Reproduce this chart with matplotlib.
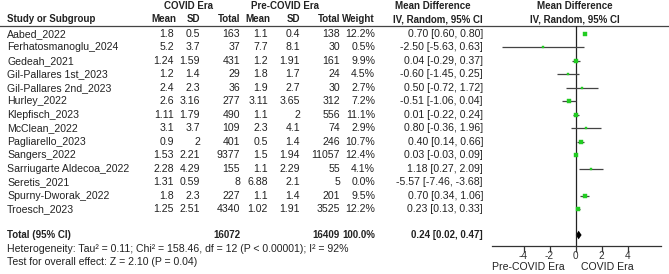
import matplotlib
matplotlib.use("Agg")
import matplotlib.pyplot as plt
import numpy as np

plt.rcParams['font.family'] = ['Liberation Sans', 'DejaVu Sans']

studies = ["Aabed_2022", "Ferhatosmanoglu_2024", "Gedeah_2021", "Gil-Pallares 1st_2023",
           "Gil-Pallares 2nd_2023", "Hurley_2022", "Klepfisch_2023", "McClean_2022",
           "Pagliarello_2023", "Sangers_2022", "Sarriugarte Aldecoa_2022", "Seretis_2021",
           "Spurny-Dworak_2022", "Troesch_2023"]
covid_mean = ["1.8", "5.2", "1.24", "1.2", "2.4", "2.6", "1.11", "3.1", "0.9", "1.53", "2.28", "1.31", "1.8", "1.25"]
covid_sd = ["0.5", "3.7", "1.59", "1.4", "2.3", "3.16", "1.79", "3.7", "2", "2.21", "4.29", "0.59", "2.3", "2.51"]
covid_n = ["163", "37", "431", "29", "36", "277", "490", "109", "401", "9377", "155", "8", "227", "4340"]
pre_mean = ["1.1", "7.7", "1.2", "1.8", "1.9", "3.11", "1.1", "2.3", "0.5", "1.5", "1.1", "6.88", "1.1", "1.02"]
pre_sd = ["0.4", "8.1", "1.91", "1.7", "2.7", "3.65", "2", "4.1", "1.4", "1.94", "2.29", "2.1", "1.4", "1.91"]
pre_n = ["138", "30", "161", "24", "30", "312", "556", "74", "246", "11057", "55", "5", "201", "3525"]
weight = [12.2, 0.5, 9.9, 4.5, 2.7, 7.2, 11.1, 2.9, 10.7, 12.4, 4.1, 0.0, 9.5, 12.2]
md = [0.70, -2.50, 0.04, -0.60, 0.50, -0.51, 0.01, 0.80, 0.40, 0.03, 1.18, -5.57, 0.70, 0.23]
lo = [0.60, -5.63, -0.29, -1.45, -0.72, -1.06, -0.22, -0.36, 0.14, -0.03, 0.27, -7.46, 0.34, 0.13]
hi = [0.80, 0.63, 0.37, 0.25, 1.72, 0.04, 0.24, 1.96, 0.66, 0.09, 2.09, -3.68, 1.06, 0.33]
total_covid = "16072"
total_pre = "16409"
total_md, total_lo, total_hi = 0.24, 0.02, 0.47
het_text = "Heterogeneity: Tau\u00b2 = 0.11; Chi\u00b2 = 158.46, df = 12 (P < 0.00001); I\u00b2 = 92%"
test_text = "Test for overall effect: Z = 2.10 (P = 0.04)"
xticks = [-4, -2, 0, 2, 4]
xlabel_left = "Pre-COVID Era"
xlabel_right = "COVID Era"

W, H = 669, 274
DPI = 100
fig = plt.figure(figsize=(W / DPI, H / DPI), dpi=DPI)

# row geometry (pixels)
y0, dy = 34.0, 13.46
def prow(px):
    return (px - y0) / dy

# text axes covering whole figure: x in pixels, y in row units
tax = fig.add_axes([0, 0, 1, 1])
tax.set_xlim(0, W)
tax.set_ylim(prow(H), prow(0))
tax.axis('off')

fs = 7.6
fsb = 7.0
bold = dict(fontsize=fsb, fontweight='bold', va='center', color='#222222')
norm = dict(fontsize=fs, va='center', color='#222222')

# column right edges (pixels)
cx = dict(cm=174, csd=200, cn=240, pm=268, psd=300, pn=340, w=375, md=483)

# headers
tax.text(188, prow(6), "COVID Era", ha='center', **bold)
tax.text(285, prow(6), "Pre-COVID Era", ha='center', **bold)
tax.text(433, prow(6), "Mean Difference", ha='center', **bold)
tax.text(575, prow(6), "Mean Difference", ha='center', **bold)
r2 = prow(19)
tax.text(7, r2, "Study or Subgroup", ha='left', **bold)
tax.text(cx['cm'] + 2, r2, "Mean", ha='right', **bold)
tax.text(cx['csd'], r2, "SD", ha='right', **bold)
tax.text(cx['cn'], r2, "Total", ha='right', **bold)
tax.text(cx['pm'] + 2, r2, "Mean", ha='right', **bold)
tax.text(cx['psd'], r2, "SD", ha='right', **bold)
tax.text(cx['pn'], r2, "Total", ha='right', **bold)
tax.text(cx['w'], r2, "Weight", ha='right', **bold)
tax.text(cx['md'], r2, "IV, Random, 95% CI", ha='right', **bold)
tax.text(575, r2, "IV, Random, 95% CI", ha='center', **bold)
tax.axhline(prow(26), color='#444444', lw=0.9)

for i, s in enumerate(studies):
    tax.text(7, i, s, ha='left', **norm)
    tax.text(cx['cm'], i, covid_mean[i], ha='right', **norm)
    tax.text(cx['csd'], i, covid_sd[i], ha='right', **norm)
    tax.text(cx['cn'], i, covid_n[i], ha='right', **norm)
    tax.text(cx['pm'], i, pre_mean[i], ha='right', **norm)
    tax.text(cx['psd'], i, pre_sd[i], ha='right', **norm)
    tax.text(cx['pn'], i, pre_n[i], ha='right', **norm)
    tax.text(cx['w'], i, f"{weight[i]:.1f}%", ha='right', **norm)
    tax.text(cx['md'], i, f"{md[i]:.2f} [{lo[i]:.2f}, {hi[i]:.2f}]", ha='right', **norm)

ty = prow(235)
tax.text(7, ty, "Total (95% CI)", ha='left', **bold)
tax.text(cx['cn'], ty, total_covid, ha='right', **bold)
tax.text(cx['pn'], ty, total_pre, ha='right', **bold)
tax.text(cx['w'], ty, "100.0%", ha='right', **bold)
tax.text(cx['md'], ty, f"{total_md:.2f} [{total_lo:.2f}, {total_hi:.2f}]", ha='right', **bold)
tax.text(7, prow(249), het_text, ha='left', **norm)
tax.text(7, prow(262), test_text, ha='left', **norm)

# forest axes
axL, axR = 492.0, 661.0
axTop, axBot = 26.0, 246.0
fax = fig.add_axes([axL / W, (H - axBot) / H, (axR - axL) / W, (axBot - axTop) / H])
fax.patch.set_alpha(0)
zero_px = 575.5
upx = 13.0
fax.set_xlim((axL - zero_px) / upx, (axR - zero_px) / upx)
fax.set_ylim(prow(axBot), prow(axTop))
for sp in ['top', 'right', 'left']:
    fax.spines[sp].set_visible(False)
fax.spines['bottom'].set_color('#333333')
fax.spines['bottom'].set_linewidth(0.9)
fax.set_yticks([])
fax.set_xticks(xticks)
fax.set_xticklabels([str(t) for t in xticks], fontsize=7.2, color='#333333')
fax.tick_params(axis='x', direction='out', length=4, width=0.9, color='#333333', pad=-0.5)
fax.axvline(0, color='#222222', lw=0.9)

for i in range(len(studies)):
    if weight[i] <= 0:
        continue
    fax.plot([lo[i], hi[i]], [i, i], color='#444444', lw=0.9, solid_capstyle='butt')
    ms = max(1.6, 3.2 * np.sqrt(weight[i] / 12.2))
    fax.plot([md[i]], [i], marker='s', ms=ms, color='#22cc22', mec='#22cc22', mew=0.3, ls='none')

dh = 0.32
fax.fill([total_lo, total_md, total_hi, total_md], [ty, ty - dh, ty, ty + dh],
         color='black', lw=0)

tax.text(565, prow(266.5), xlabel_left, ha='right', **norm)
tax.text(581, prow(266.5), xlabel_right, ha='left', **norm)

fig.savefig("out.png", dpi=DPI)
